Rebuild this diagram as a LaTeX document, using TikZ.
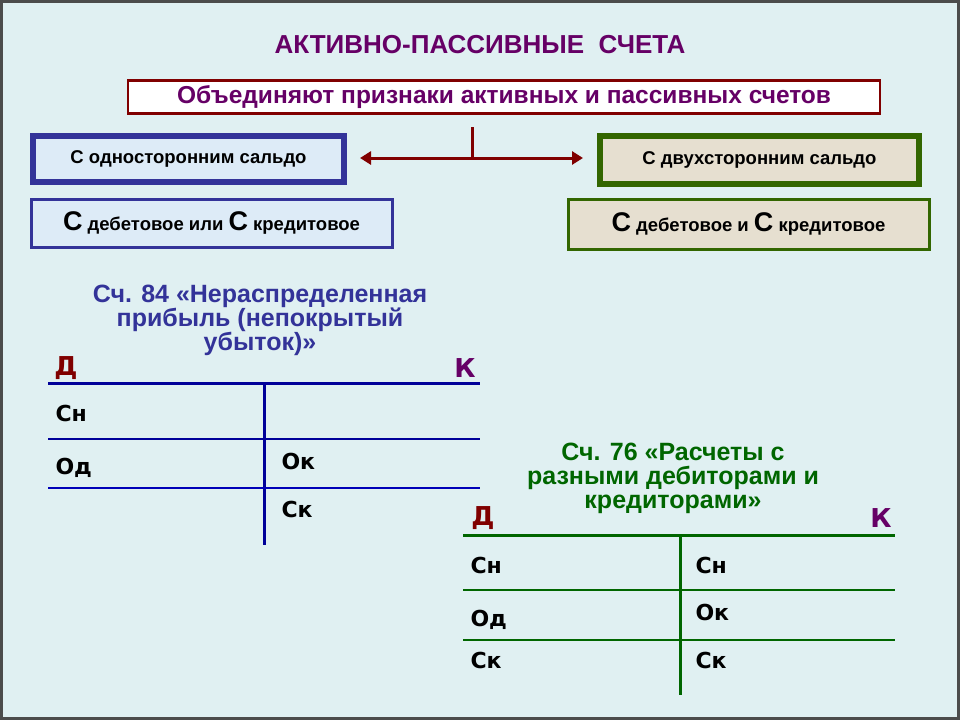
\documentclass[tikz,border=0pt]{standalone}
\usepackage{fontspec}
\setmainfont{Liberation Sans}
\newfontfamily\dvs{DejaVu Sans}
\usetikzlibrary{arrows.meta}
\definecolor{bg}{HTML}{E0F0F2}
\definecolor{purp}{HTML}{660066}
\definecolor{dred}{HTML}{800000}
\definecolor{bblue}{HTML}{333399}
\definecolor{lblue}{HTML}{DDEBF7}
\definecolor{grn}{HTML}{336600}
\definecolor{beige}{HTML}{E6DFD0}
\definecolor{tblue}{HTML}{000099}
\definecolor{tgreen}{HTML}{006600}
\tikzset{
 bbox/.style={draw=bblue,fill=lblue,font=\bfseries\fontsize{18.5}{22}\selectfont},
 gbox/.style={draw=grn,fill=beige,font=\bfseries\fontsize{18.5}{22}\selectfont},
 lab/.style={anchor=west,font=\dvs\bfseries\fontsize{22}{26}\selectfont},
 dlab/.style={font=\dvs\bfseries\fontsize{26}{30}\selectfont,text=dred},
 klab/.style={font=\dvs\bfseries\fontsize{26}{30}\selectfont,text=purp},
 ttl/.style={align=center,font=\bfseries\fontsize{25}{24}\selectfont},
}
\newcommand{\bigC}{{\fontsize{27}{28}\selectfont С}}
\begin{document}
\begin{tikzpicture}[x=1pt,y=-1pt]
\useasboundingbox (0,0) rectangle (960,720);
\fill[bg] (0,0) rectangle (960,720);
\draw[line width=3pt,black!70] (1.5,1.5) rectangle (958.5,718.5);
\node[font=\bfseries\fontsize{26}{30}\selectfont,text=purp] (title) at (480,45) {АКТИВНО-ПАССИВНЫЕ\ \ СЧЕТА};
\node[draw=dred,line width=2.5pt,fill=white,minimum width=752pt,minimum height=33pt,font=\bfseries\fontsize{24.5}{26}\selectfont,text=purp] (top) at (504,97) {Объединяют признаки активных и пассивных счетов};
\node[bbox,line width=6pt,minimum width=311pt,minimum height=46pt] (l1) at (188.5,159) {С односторонним сальдо};
\node[bbox,line width=3pt,minimum width=361pt,minimum height=48pt] (l2) at (211.5,223) {\bigC{} дебетовое или \bigC{} кредитовое};
\node[gbox,line width=6pt,minimum width=319pt,minimum height=48pt] (r1) at (759.5,160) {С двухсторонним сальдо};
\node[gbox,line width=3pt,minimum width=361pt,minimum height=50pt] (r2) at (748.5,224) {\bigC{} дебетовое и \bigC{} кредитовое};
\coordinate (j) at (472,158);
\draw[dred,line width=3pt] (j) -- (472,127);
\draw[dred,line width=3pt,{Triangle[length=11pt,width=13pt]}-{Triangle[length=11pt,width=13pt]}] (360,158) -- (583,158);
% account 84
\node[ttl,text=bblue] (t84) at (260,320) {Сч. 84 «Нераспределенная\\прибыль (непокрытый\\убыток)»};
\node[dlab] (d1) at (66,368) {Д};
\node[klab] (k1) at (465,368) {К};
\draw[tblue,line width=3pt] (48,383) -- (480,383);
\draw[tblue,line width=3pt] (264,383) -- (264,545);
\draw[tblue,line width=2.5pt] (48,439) -- (480,439);
\draw[tblue!70!blue,line width=1.5pt] (48,488) -- (480,488);
\node[lab] (a1) at (52,413) {Сн};
\node[lab] (a2) at (52,468) {Од};
\node[lab] (a3) at (278,461) {Ок};
\node[lab] (a4) at (278,509) {Ск};
% account 76
\node[ttl,text=tgreen] (t76) at (673,478) {Сч. 76 «Расчеты с\\разными дебиторами и\\кредиторами»};
\node[dlab] (d2) at (483,518) {Д};
\node[klab] (k2) at (881,518) {К};
\draw[tgreen,line width=3pt] (463,535) -- (895,535);
\draw[tgreen,line width=3pt] (680,535) -- (680,695);
\draw[tgreen,line width=2pt] (463,590) -- (895,590);
\draw[tgreen,line width=1.5pt] (463,640) -- (895,640);
\node[lab] (b1) at (467,565) {Сн};
\node[lab] (b2) at (692,565) {Сн};
\node[lab] (b3) at (467,620) {Од};
\node[lab] (b4) at (692,612) {Ок};
\node[lab] (b5) at (467,660) {Ск};
\node[lab] (b6) at (692,660) {Ск};
\end{tikzpicture}
\end{document}
